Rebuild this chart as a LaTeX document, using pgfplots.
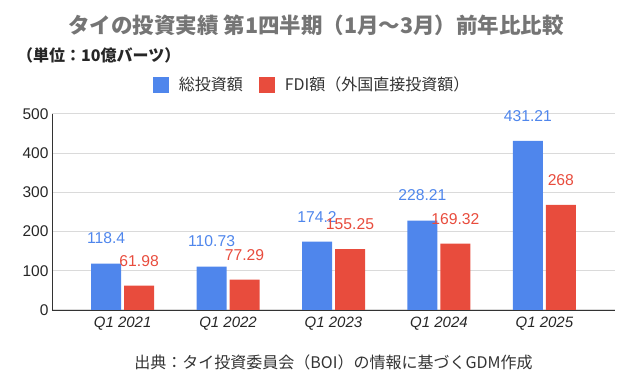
\documentclass[border=0pt]{standalone}
\usepackage{pgfplots}
\pgfplotsset{compat=1.18}
\usepackage{fontspec}
\setmainfont{Liberation Sans}
\newfontfamily\jp{Noto Sans CJK JP}
\definecolor{gblue}{HTML}{4F86EC}
\definecolor{gred}{HTML}{E84C3D}
\definecolor{gridc}{HTML}{DADADA}
\definecolor{titlegray}{HTML}{757575}
\begin{document}
\begin{tikzpicture}[x=1pt,y=1pt]
\path[use as bounding box] (0,0) rectangle (633,389);
\node[font=\jp\bfseries\fontsize{21.5}{24}\selectfont, text=titlegray] at (316,364) {タイの投資実績 第1四半期（1月～3月）前年比比較};
\node[font=\jp\bfseries\fontsize{16}{18}\selectfont, anchor=west, text=black!85, inner sep=0pt] at (17,334) {（単位：10億バーツ）};
\node[font=\jp\fontsize{16}{18}\selectfont, text=black!80] at (333.5,27) {出典：タイ投資委員会（BOI）の情報に基づくGDM作成};
\begin{axis}[
  at={(52pt,79pt)}, anchor=south west, scale only axis,
  width=563pt, height=196pt,
  ybar=3pt, bar width=30pt,
  xmin=-0.67, xmax=4.67, ymin=0, ymax=500,
  ytick={0,100,...,500},
  ymajorgrids, grid style={gridc, line width=1pt},
  xtick=data,
  xticklabels={Q1 2021,Q1 2022,Q1 2023,Q1 2024,Q1 2025},
  xticklabel style={font=\itshape\fontsize{15}{17}\selectfont, text=black!85, yshift=-3pt},
  yticklabel style={font=\fontsize{15.5}{17}\selectfont, text=black!85},
  /pgf/number format/assume math mode=true,
  axis x line*=bottom, axis y line*=left,
  axis line style={black!80, line width=0.9pt, -},
  major tick length=0,
  point meta=explicit symbolic,
  nodes near coords,
  every node near coord/.append style={font=\fontsize{15.7}{17}\selectfont, anchor=center, yshift=25pt},
  legend columns=2,
  legend style={at={(0.462,1.15)}, anchor=center, draw=none, fill=none,
    font=\jp\fontsize{16}{18}\selectfont, text=black!80,
    /tikz/every even column/.append style={column sep=14pt}},
  legend image code/.code={\fill[#1] (0pt,-8pt) rectangle (16pt,8pt); \path (24pt,0pt);},
]
\addplot[fill=gblue, draw=none, every node near coord/.append style={text=gblue}] coordinates {
  (0,118.4) [118.4] (1,110.73) [110.73] (2,174.2) [174.2] (3,228.21) [228.21] (4,431.21) [431.21]};
\addplot[fill=gred, draw=none, every node near coord/.append style={text=gred}] coordinates {
  (0,61.98) [61.98] (1,77.29) [77.29] (2,155.25) [155.25] (3,169.32) [169.32] (4,268) [268]};
\legend{総投資額, FDI額（外国直接投資額）}
\end{axis}
\end{tikzpicture}
\end{document}
